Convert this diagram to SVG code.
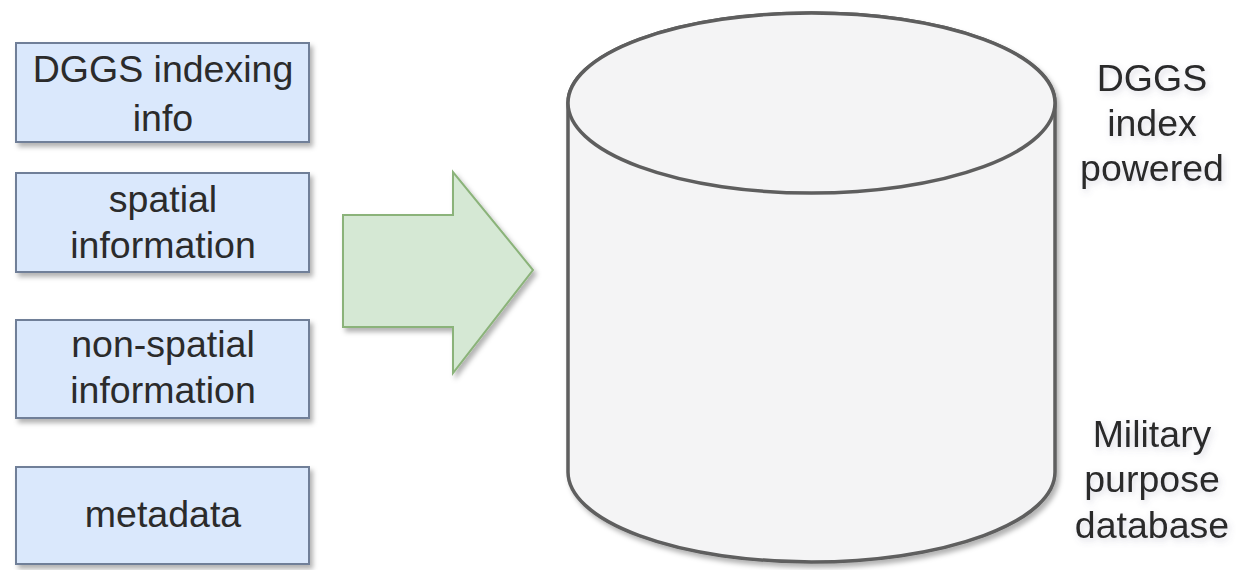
<svg xmlns="http://www.w3.org/2000/svg" width="1253" height="570" viewBox="0 0 1253 570">
  <style>
    .box { fill: #dae8fc; stroke: #6f7f98; stroke-width: 2; filter: url(#shadow); }
    .lbl { font-family: "Liberation Sans", Arial, sans-serif; font-size: 37.5px; fill: #2b2b2b; text-anchor: middle; }
    .side { filter: url(#textShadow); }
    .cyl { fill: #f4f4f5; stroke: #5e5e5e; stroke-width: 3.5; }
  </style>
  <defs>
    <filter id="shadow" x="-10%" y="-10%" width="125%" height="130%">
      <feDropShadow dx="3" dy="4" stdDeviation="2.5" flood-color="#000" flood-opacity="0.3"/>
    </filter>
    <filter id="textShadow" x="-10%" y="-10%" width="130%" height="130%">
      <feDropShadow dx="2" dy="3" stdDeviation="3" flood-color="#6a6a8a" flood-opacity="0.25"/>
    </filter>
  </defs>

  <rect width="1253" height="570" fill="#ffffff"/>

  <!-- input boxes -->
  <g id="node-dggs-indexing">
    <rect class="box" x="16" y="43" width="293" height="99"/>
    <text class="lbl" x="163" y="82">DGGS indexing</text>
    <text class="lbl" x="163" y="131">info</text>
  </g>
  <g id="node-spatial">
    <rect class="box" x="16" y="173" width="293" height="99"/>
    <text class="lbl" x="163" y="212">spatial</text>
    <text class="lbl" x="163" y="258">information</text>
  </g>
  <g id="node-non-spatial">
    <rect class="box" x="16" y="320" width="293" height="98"/>
    <text class="lbl" x="163" y="357">non-spatial</text>
    <text class="lbl" x="163" y="403">information</text>
  </g>
  <g id="node-metadata">
    <rect class="box" x="16" y="467" width="293" height="97"/>
    <text class="lbl" x="163" y="527">metadata</text>
  </g>

  <!-- block arrow feeding the database -->
  <g id="connectors">
    <polygon points="343,215 453,215 453,172 533,270 453,373 453,327 343,327"
             fill="#d5e8d4" stroke="#8bb37a" stroke-width="2" filter="url(#shadow)"/>
  </g>

  <!-- database cylinder -->
  <g id="node-database">
    <path class="cyl" filter="url(#shadow)"
          d="M568,103 L568,472 A243.5,90 0 0 0 1055,472 L1055,103 A243.5,90 0 0 0 568,103 Z"/>
    <ellipse class="cyl" cx="811.5" cy="103" rx="243.5" ry="90"/>
  </g>

  <!-- side labels -->
  <g id="label-dggs-powered" class="side">
    <text class="lbl" x="1152" y="91">DGGS</text>
    <text class="lbl" x="1152" y="136">index</text>
    <text class="lbl" x="1152" y="181">powered</text>
  </g>
  <g id="label-military" class="side">
    <text class="lbl" x="1152" y="447">Military</text>
    <text class="lbl" x="1152" y="492">purpose</text>
    <text class="lbl" x="1152" y="538">database</text>
  </g>
</svg>
